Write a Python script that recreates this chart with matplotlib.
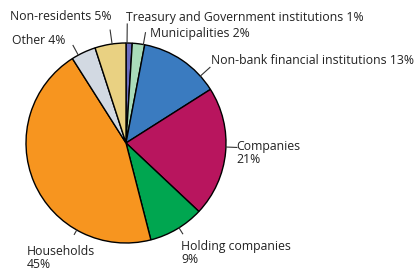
import matplotlib.pyplot as plt
import numpy as np

plt.rcParams['font.family'] = ['Open Sans', 'DejaVu Sans']

categories = ["Treasury and Government institutions", "Municipalities",
              "Non-bank financial institutions", "Companies", "Holding companies",
              "Households", "Other", "Non-residents"]
shares = [1, 2, 13, 21, 9, 45, 4, 5]
colors = ["#6b6cc0", "#a9dcb9", "#3a7bc0", "#b8155e", "#00a650",
          "#f7951f", "#d2d9e2", "#e9d182"]

# label text placement (pixel coords, top-left origin) and leader-line angles
label_text = ["Treasury and Government institutions 1%", "Municipalities 2%",
              "Non-bank financial institutions 13%", "Companies\n21%",
              "Holding companies\n9%", "Households\n45%", "Other 4%",
              "Non-residents 5%"]
label_xy = [(126, 18), (150, 33), (211, 61), (236, 153), (181, 253),
            (27, 258), (12, 40), (10, 16)]
leader_ang = [89.4, 80, 42, -2.3, -58, -119.5, 118.5, 98]
leader_len = [1.19, 1.12, 1.13, 1.11, 1.07, 1.05, 1.11, 1.14]

W, H = 416, 268
cx, cy, r = 126, H - 143, 100

fig = plt.figure(figsize=(W / 100, H / 100), dpi=100)
ax = fig.add_axes([0, 0, 1, 1])
ax.pie(shares, colors=colors, startangle=90, counterclock=False,
       center=(cx, cy), radius=r,
       wedgeprops=dict(edgecolor="black", linewidth=1.0))
ax.set_xlim(0, W)
ax.set_ylim(0, H)
ax.set_aspect("equal")
ax.axis("off")

for txt, (tx, ty), a, l in zip(label_text, label_xy, leader_ang, leader_len):
    t = np.deg2rad(a)
    ax.plot([cx + r * np.cos(t), cx + r * l * np.cos(t)],
            [cy + r * np.sin(t), cy + r * l * np.sin(t)],
            color="#333333", lw=0.8)
    ax.text(tx, H - ty, txt, fontsize=8.8, color="#222222", ha="left",
            va="center", linespacing=1.0)

fig.savefig("out.png", dpi=100)
